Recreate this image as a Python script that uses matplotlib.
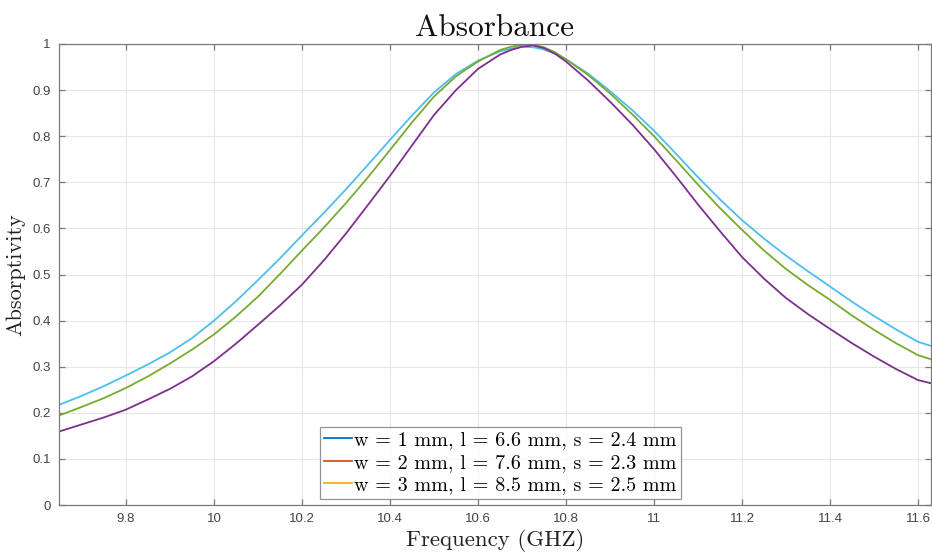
import matplotlib
matplotlib.use("Agg")
import matplotlib.pyplot as plt
from matplotlib.lines import Line2D

# ---- data ----
freq = [9.65, 9.7, 9.75, 9.8, 9.85, 9.9, 9.95, 10.0, 10.05, 10.1, 10.15, 10.2, 10.25, 10.3,
        10.35, 10.4, 10.45, 10.5, 10.55, 10.6, 10.65, 10.675, 10.7, 10.725, 10.75, 10.775,
        10.8, 10.85, 10.9, 10.95, 11.0, 11.05, 11.1, 11.15, 11.2, 11.25, 11.3, 11.35, 11.4,
        11.45, 11.5, 11.55, 11.6, 11.63]
cyan_vals = [0.218, 0.237, 0.258, 0.281, 0.305, 0.331, 0.362, 0.400, 0.442, 0.488, 0.535,
             0.585, 0.634, 0.685, 0.738, 0.792, 0.845, 0.895, 0.935, 0.964, 0.984, 0.990,
             0.994, 0.993, 0.988, 0.979, 0.967, 0.936, 0.898, 0.857, 0.812, 0.762, 0.711,
             0.663, 0.618, 0.578, 0.541, 0.507, 0.474, 0.441, 0.410, 0.381, 0.354, 0.345]
green_vals = [0.195, 0.213, 0.232, 0.254, 0.279, 0.307, 0.337, 0.370, 0.409, 0.452, 0.501,
              0.552, 0.602, 0.655, 0.711, 0.770, 0.830, 0.886, 0.930, 0.962, 0.987, 0.994,
              0.998, 0.998, 0.993, 0.982, 0.967, 0.933, 0.893, 0.848, 0.800, 0.748, 0.695,
              0.644, 0.597, 0.552, 0.512, 0.477, 0.445, 0.411, 0.380, 0.351, 0.325, 0.316]
purple_vals = [0.160, 0.175, 0.190, 0.207, 0.229, 0.252, 0.279, 0.312, 0.350, 0.391, 0.433,
               0.478, 0.531, 0.589, 0.651, 0.714, 0.780, 0.846, 0.900, 0.946, 0.977, 0.987,
               0.994, 0.997, 0.991, 0.979, 0.962, 0.921, 0.875, 0.826, 0.772, 0.713, 0.652,
               0.594, 0.538, 0.491, 0.449, 0.414, 0.382, 0.351, 0.322, 0.295, 0.271, 0.264]

legend_labels = ["w = 1 mm, l = 6.6 mm, s = 2.4 mm",
                 "w = 2 mm, l = 7.6 mm, s = 2.3 mm",
                 "w = 3 mm, l = 8.5 mm, s = 2.5 mm"]
xticks = [9.8, 10.0, 10.2, 10.4, 10.6, 10.8, 11.0, 11.2, 11.4, 11.6]
xtick_labels = ["9.8", "10", "10.2", "10.4", "10.6", "10.8", "11", "11.2", "11.4", "11.6"]
yticks = [0, 0.1, 0.2, 0.3, 0.4, 0.5, 0.6, 0.7, 0.8, 0.9, 1.0]
ytick_labels = ["0", "0.1", "0.2", "0.3", "0.4", "0.5", "0.6", "0.7", "0.8", "0.9", "1"]

legend_colors = ["#0072BD", "#D95319", "#EDB120"]
line_colors = ["#4DBEEE", "#77AC30", "#7E2F8E"]

fig = plt.figure(figsize=(9.32, 5.57), dpi=100)
ax = fig.add_axes([59/932, 52/557, 872/932, 461/557])

for vals, c in zip([cyan_vals, green_vals, purple_vals], line_colors):
    ax.plot(freq, vals, color=c, lw=1.3, solid_joinstyle="round")

ax.set_xlim(9.6477, 11.6296)
ax.set_ylim(0, 1)
ax.set_xticks(xticks)
ax.set_xticklabels(xtick_labels)
ax.set_yticks(yticks)
ax.set_yticklabels(ytick_labels)

ax.grid(True, color="#e6e6e6", lw=0.8)
ax.set_axisbelow(True)
for s in ax.spines.values():
    s.set_color("#7a7a7a")
    s.set_linewidth(0.9)
ax.tick_params(direction="in", length=4, width=0.9, color="#7a7a7a",
               top=True, right=True, labelsize=9.5, labelcolor="#444444", pad=6)
for lab in ax.get_xticklabels() + ax.get_yticklabels():
    lab.set_fontfamily("Liberation Sans")

serif = "cmr10"
ax.set_title("Absorbance", fontfamily=serif, fontsize=22.5, pad=6, color="#111111")
ax.set_xlabel("Frequency (GHZ)", fontfamily=serif, fontsize=16.5, labelpad=3, color="#222222")
ax.set_ylabel("Absorptivity", fontfamily=serif, fontsize=16, labelpad=5, color="#222222")

handles = [Line2D([0], [0], color=c, lw=1.3) for c in legend_colors]
leg = ax.legend(handles, legend_labels, loc="lower center", bbox_to_anchor=(0.506, 0.014),
                prop={"family": serif, "size": 14.5}, frameon=True, fancybox=False,
                edgecolor="#7a7a7a", handlelength=1.4, handletextpad=0.1,
                borderpad=0.2, labelspacing=0.22, borderaxespad=0)
leg.get_frame().set_linewidth(0.9)

fig.savefig("out.png", dpi=100)
